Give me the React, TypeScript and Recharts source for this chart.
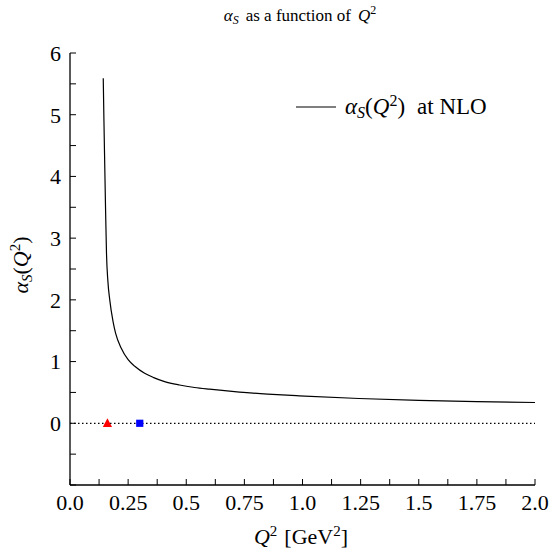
import React from "react";
import {
  ComposedChart,
  Line,
  Scatter,
  XAxis,
  YAxis,
  ReferenceLine,
} from "recharts";

// Q^2 values (GeV^2) and alpha_S(Q^2) at NLO
const q2Values = [
  0.143, 0.146, 0.149, 0.153, 0.157, 0.163, 0.171, 0.185, 0.196, 0.22, 0.25,
  0.28, 0.321, 0.36, 0.407, 0.471, 0.536, 0.6, 0.729, 0.85, 0.986, 1.243,
  1.5, 1.75, 2.0,
];
const alphaValues = [
  5.59, 4.9, 4.27, 3.46, 2.75, 2.3, 2.0, 1.65, 1.46, 1.22, 1.03, 0.92, 0.81,
  0.74, 0.675, 0.62, 0.58, 0.552, 0.505, 0.473, 0.445, 0.402, 0.372, 0.352,
  0.337,
];

// markers on the Q^2 axis
const triangleQ2 = [0.161];
const squareQ2 = [0.3];
const markerY = [0];

const xTicks = [
  0, 0.125, 0.25, 0.375, 0.5, 0.625, 0.75, 0.875, 1.0, 1.125, 1.25, 1.375, 1.5,
  1.625, 1.75, 1.875, 2.0,
];
const xTickValuesLabeled = [0, 0.25, 0.5, 0.75, 1.0, 1.25, 1.5, 1.75, 2.0];
const xTickLabels = ["0.0", "0.25", "0.5", "0.75", "1.0", "1.25", "1.5", "1.75", "2.0"];

const yTicks = [-1, -0.5, 0, 0.5, 1, 1.5, 2, 2.5, 3, 3.5, 4, 4.5, 5, 5.5, 6];
const yTickValuesLabeled = [0, 1, 2, 3, 4, 5, 6];
const yTickLabels = ["0", "1", "2", "3", "4", "5", "6"];

const curveData = q2Values.map((q, i) => ({ q2: q, a: alphaValues[i] }));
const triangleData = triangleQ2.map((q, i) => ({ q2: q, y: markerY[i] }));
const squareData = squareQ2.map((q, i) => ({ q2: q, y: markerY[i] }));

const FONT = "Liberation Serif, DejaVu Serif, serif";

const fmtX = (v: number) => {
  const i = xTickValuesLabeled.findIndex((t) => Math.abs(t - v) < 1e-9);
  return i >= 0 ? xTickLabels[i] : "";
};
const fmtY = (v: number) => {
  const i = yTickValuesLabeled.findIndex((t) => Math.abs(t - v) < 1e-9);
  return i >= 0 ? yTickLabels[i] : "";
};

const TriangleShape = (props: any) => {
  const { cx, cy } = props;
  return (
    <path
      d={`M${cx},${cy - 5} L${cx + 4.6},${cy + 3.6} L${cx - 4.6},${cy + 3.6} Z`}
      fill="#ff0000"
    />
  );
};
const SquareShape = (props: any) => {
  const { cx, cy } = props;
  return <rect x={cx - 3.6} y={cy - 3.6} width={7.2} height={7.2} fill="#0000ff" />;
};

const tickStyle = { fill: "#000", fontSize: 22, fontFamily: FONT, style: { fontFamily: FONT } };
const axisLine = { stroke: "#000", strokeWidth: 1.3 };
const tickLine = { stroke: "#000", strokeWidth: 1 };
const txt = { fontFamily: FONT };

export default function App() {
  return (
    <div style={{ position: "absolute", left: 0, top: 0, width: 550, height: 552, background: "#fff", fontFamily: FONT }}>
      <ComposedChart
        width={550}
        height={552}
        margin={{ top: 53, right: 15, bottom: 37, left: 10 }}
      >
        <XAxis
          xAxisId="b"
          type="number"
          dataKey="q2"
          domain={[0, 2]}
          ticks={xTicks}
          tickFormatter={fmtX}
          interval={0}
          allowDataOverflow
          height={30}
          tickSize={-6}
          tickMargin={15}
          tick={tickStyle}
          axisLine={axisLine}
          tickLine={tickLine}
        />
        <XAxis
          xAxisId="t"
          orientation="top"
          type="number"
          dataKey="q2"
          domain={[0, 2]}
          ticks={xTicks}
          tickFormatter={() => ""}
          interval={0}
          allowDataOverflow
          height={0}
          tickSize={-6}
          axisLine={axisLine}
          tickLine={tickLine}
        />
        <YAxis
          yAxisId="l"
          type="number"
          domain={[-1, 6]}
          ticks={yTicks}
          tickFormatter={fmtY}
          interval={0}
          allowDataOverflow
          width={60}
          tickSize={-6}
          tickMargin={15}
          tick={tickStyle}
          axisLine={axisLine}
          tickLine={tickLine}
        />
        <YAxis
          yAxisId="r"
          orientation="right"
          type="number"
          domain={[-1, 6]}
          ticks={yTicks}
          tickFormatter={() => ""}
          interval={0}
          allowDataOverflow
          width={0}
          tickSize={-6}
          axisLine={axisLine}
          tickLine={tickLine}
        />
        <ReferenceLine
          xAxisId="b"
          yAxisId="l"
          y={0}
          stroke="#000"
          strokeWidth={1.2}
          strokeDasharray="1.5 2.5"
        />
        <Line
          xAxisId="b"
          yAxisId="l"
          data={curveData}
          dataKey="a"
          type="monotone"
          dot={false}
          stroke="#000"
          strokeWidth={1.2}
          isAnimationActive={false}
        />
        <Scatter
          xAxisId="b"
          yAxisId="l"
          data={triangleData}
          dataKey="y"
          shape={<TriangleShape />}
          isAnimationActive={false}
        />
        <Scatter
          xAxisId="b"
          yAxisId="l"
          data={squareData}
          dataKey="y"
          shape={<SquareShape />}
          isAnimationActive={false}
        />
      </ComposedChart>
      <svg
        width={550}
        height={552}
        style={{ position: "absolute", left: 0, top: 0, pointerEvents: "none", fontFamily: FONT }}
      >
        {/* title */}
        <text x={300} y={21} textAnchor="middle" fontSize={17} fill="#000" style={txt}>
          <tspan fontStyle="italic">α</tspan>
          <tspan fontStyle="italic" fontSize={12} dy={3}>S</tspan>
          <tspan dy={-3} dx={7}>as a function of</tspan>
          <tspan fontStyle="italic" dx={7}>Q</tspan>
          <tspan fontSize={12} dy={-7}>2</tspan>
        </text>
        {/* y label */}
        <text transform="translate(28,265) rotate(-90)" textAnchor="middle" fontSize={22} fill="#000" style={txt}>
          <tspan fontStyle="italic">α</tspan>
          <tspan fontStyle="italic" fontSize={15} dy={4}>S</tspan>
          <tspan dy={-4}>(</tspan>
          <tspan fontStyle="italic">Q</tspan>
          <tspan fontSize={15} dy={-8}>2</tspan>
          <tspan dy={8}>)</tspan>
        </text>
        {/* x label */}
        <text x={301} y={544} textAnchor="middle" fontSize={22} fill="#000" style={txt}>
          <tspan fontStyle="italic">Q</tspan>
          <tspan fontSize={15} dy={-8}>2</tspan>
          <tspan dy={8} dx={7}>[GeV</tspan>
          <tspan fontSize={15} dy={-8}>2</tspan>
          <tspan dy={8}>]</tspan>
        </text>
        {/* legend */}
        <line x1={296} y1={107} x2={336} y2={107} stroke="#000" strokeWidth={1.2} />
        <text x={345} y={114} fontSize={23} fill="#000" style={txt}>
          <tspan fontStyle="italic">α</tspan>
          <tspan fontStyle="italic" fontSize={16} dy={4}>S</tspan>
          <tspan dy={-4}>(</tspan>
          <tspan fontStyle="italic">Q</tspan>
          <tspan fontSize={16} dy={-8}>2</tspan>
          <tspan dy={8}>)</tspan>
          <tspan dx={12}>at NLO</tspan>
        </text>
      </svg>
    </div>
  );
}
